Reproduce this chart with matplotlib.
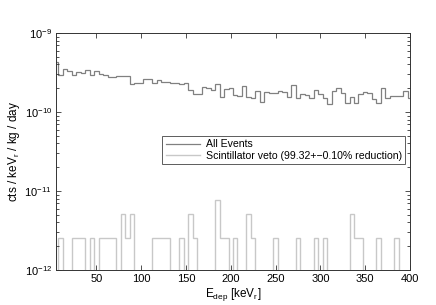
import numpy as np
import matplotlib
matplotlib.use("Agg")
import matplotlib.pyplot as plt
from matplotlib.ticker import LogLocator, FixedLocator, NullLocator, NullFormatter

plt.rcParams['font.family'] = ['Liberation Sans', 'DejaVu Sans']
plt.rcParams['mathtext.fontset'] = 'custom'
plt.rcParams['mathtext.rm'] = 'Liberation Sans'

# bin centres [keV_r]
energy = np.arange(5, 401, 5)

# All events rate [cts/keV_r/kg/day] in units of 1e-10
all_events_e10 = [
    4.33, 2.94, 3.47, 3.33, 2.94, 3.24, 3.12, 3.37, 2.94, 3.33,
    3.00, 2.94, 2.81, 2.80, 2.88, 2.86, 2.86, 2.23, 2.30, 2.35,
    2.62, 2.62, 2.31, 2.54, 2.38, 2.38, 2.33, 2.33, 2.26, 2.31,
    1.92, 1.70, 1.70, 2.07, 2.00, 1.88, 2.23, 1.54, 1.94, 2.00,
    1.64, 1.61, 2.13, 1.56, 1.49, 1.86, 1.35, 1.81, 1.76, 1.76,
    1.86, 1.81, 1.56, 2.20, 1.52, 1.69, 1.64, 1.49, 1.90, 1.68,
    1.49, 1.25, 1.86, 2.00, 1.72, 1.29, 1.56, 1.29, 1.69, 1.81,
    1.72, 1.46, 1.29, 2.00, 1.49, 1.59, 1.61, 1.61, 1.84, 1.52,
]

# Surviving counts after scintillator veto, and rate per count
veto_counts = [
    0, 1, 0, 0, 1, 1, 1, 0, 1, 0,
    1, 1, 1, 1, 0, 2, 1, 2, 0, 0,
    0, 0, 1, 1, 1, 1, 0, 0, 1, 0,
    2, 1, 0, 0, 0, 0, 3, 1, 1, 0,
    1, 0, 0, 2, 1, 0, 0, 0, 0, 1,
    0, 0, 0, 0, 1, 0, 0, 0, 1, 0,
    1, 0, 0, 0, 0, 0, 2, 1, 1, 0,
    0, 0, 1, 0, 0, 0, 1, 0, 0, 0,
]
rate_per_count = 2.55e-12

labels = ["All Events", "Scintillator veto (99.32+\u22120.10% reduction)"]

half = 2.5
edges = np.append(energy - half, energy[-1] + half)
all_vals = np.array(all_events_e10) * 1e-10
vc = np.array(veto_counts, dtype=float)
veto_vals = np.where(vc > 0, vc * rate_per_count, 1e-14)

fig = plt.figure(figsize=(4.36, 3.05), dpi=100)
ax = fig.add_axes([56/436, 1 - 270/305, 354/436, 237/305])

ax.stairs(all_vals, edges, baseline=None, color='#808080', lw=0.9, label=labels[0])
ax.stairs(veto_vals, edges, baseline=None, color='#c8c8c8', lw=1.0, label=labels[1])

ax.set_yscale('log')
ax.set_xlim(5, 400)
ax.set_ylim(1e-12, 1e-9)
ax.xaxis.set_major_locator(FixedLocator(np.arange(50, 401, 50)))
ax.xaxis.set_minor_locator(NullLocator())
ax.yaxis.set_major_locator(LogLocator(base=10, numticks=10))
ax.yaxis.set_minor_locator(LogLocator(base=10, subs=np.arange(2, 10), numticks=20))
ax.yaxis.set_minor_formatter(NullFormatter())

ax.tick_params(which='both', direction='in', top=True, right=True,
               labelsize=8, color='#333333', width=0.6)
ax.tick_params(which='major', length=3.5, pad=3)
ax.tick_params(which='minor', length=2)
for s in ax.spines.values():
    s.set_color('#333333')
    s.set_linewidth(0.7)

ax.set_xlabel(r'E$_{\rm dep}$ [keV$_{\rm r}$]', fontsize=8.5, labelpad=1)
ax.set_ylabel(r'cts / keV$_{\rm r}$ / kg / day', fontsize=8.5, labelpad=2)

leg = ax.legend(loc='upper right', bbox_to_anchor=(0.986, 0.565), fontsize=7.6,
                frameon=True, fancybox=False, edgecolor='#333333',
                handlelength=3.3, borderpad=0.3, labelspacing=0.15,
                handletextpad=0.5, borderaxespad=0)
leg.get_frame().set_linewidth(0.7)

fig.savefig('out.png', dpi=100)
